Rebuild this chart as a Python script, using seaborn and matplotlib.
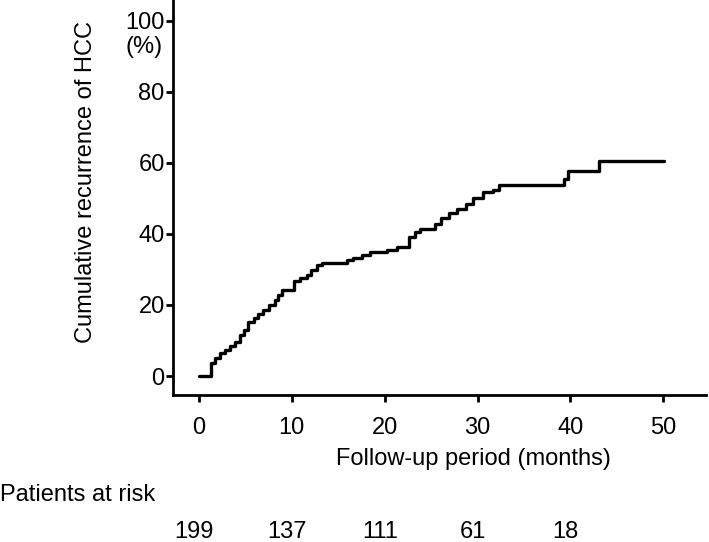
import numpy as np
import pandas as pd
import matplotlib
matplotlib.use("Agg")
import matplotlib.pyplot as plt
import matplotlib.transforms as mtransforms
import seaborn as sns

# step points of the cumulative recurrence curve (months, %)
months = [0, 1.25, 1.7, 2.3, 2.8, 3.3, 3.9, 4.4, 4.8, 5.3, 5.9, 6.4, 6.9, 7.5,
          8.2, 8.5, 8.9, 10.2, 10.9, 11.6, 12.1, 12.7, 13.2, 15.9, 16.6, 17.5,
          18.4, 20.2, 21.3, 22.6, 23.3, 23.8, 25.4, 26.1, 26.9, 27.8, 28.8,
          29.5, 30.6, 31.7, 32.3, 39.3, 39.7, 43.1, 50.1]
recurrence = [0, 3.6, 5.0, 6.4, 7.3, 8.5, 9.7, 11.5, 13.0, 15.3, 16.2, 17.5,
              18.6, 20.0, 21.4, 22.8, 24.2, 26.8, 27.5, 28.5, 29.9, 31.3, 31.7,
              32.7, 33.1, 34.1, 34.8, 35.5, 36.4, 39.2, 40.5, 41.3, 42.7, 44.4,
              45.8, 46.9, 48.4, 50.0, 51.9, 52.4, 53.7, 55.5, 57.7, 60.6, 60.6]

x_ticks = [0, 10, 20, 30, 40, 50]
y_ticks = [0, 20, 40, 60, 80, 100]
risk_months = [0, 10, 20, 30, 40]
at_risk = [199, 137, 111, 61, 18]

sns.set_style("ticks")
plt.rcParams['font.family'] = ['Liberation Sans', 'DejaVu Sans']
plt.rcParams.update({'text.color': 'black', 'axes.labelcolor': 'black',
                     'xtick.color': 'black', 'ytick.color': 'black'})
fs = 17

df = pd.DataFrame({'month': months, 'recurrence': recurrence})

fig = plt.figure(figsize=(7.09, 5.42), dpi=100)
ax = fig.add_axes([173 / 709, 147 / 542, 533 / 709, 395 / 542])

sns.lineplot(data=df, x='month', y='recurrence', drawstyle='steps-post',
             color='black', lw=2.4, sort=False, estimator=None, ax=ax)

ax.set_xlim(-2.8, 54.6)
ax.set_ylim(-5.35, 105.9)
ax.set_xticks(x_ticks)
ax.set_yticks(y_ticks)
ax.tick_params(axis='x', length=5, width=2, pad=11, labelsize=fs)
ax.tick_params(axis='y', length=5, width=2, pad=1, labelsize=fs)
for s in ['top', 'right']:
    ax.spines[s].set_visible(False)
for s in ['left', 'bottom']:
    ax.spines[s].set_linewidth(2)
    ax.spines[s].set_color('black')

ax.set_xlabel('Follow-up period (months)', fontsize=fs)
ax.xaxis.set_label_coords(0.563, -0.134)
ax.set_ylabel('Cumulative recurrence of HCC', fontsize=fs)
ax.yaxis.set_label_coords(-0.143, 0.539)

# "(%)" under the 100 tick label
trans_y = mtransforms.blended_transform_factory(ax.transAxes, ax.transData)
ax.text(-0.019, 92.7, '(%)', transform=trans_y, ha='right', va='center',
        fontsize=fs, clip_on=False)

# patients at risk table
fig.text(0.0, 1 - 495 / 542, 'Patients at risk', ha='left', va='center', fontsize=fs)
trans_x = mtransforms.blended_transform_factory(ax.transData, ax.transAxes)
for m, n in zip(risk_months, at_risk):
    ax.text(m - 0.5, -0.347, str(n), transform=trans_x, ha='center', va='center',
            fontsize=fs, clip_on=False)

fig.savefig('out.png', dpi=100)
plt.close(fig)
